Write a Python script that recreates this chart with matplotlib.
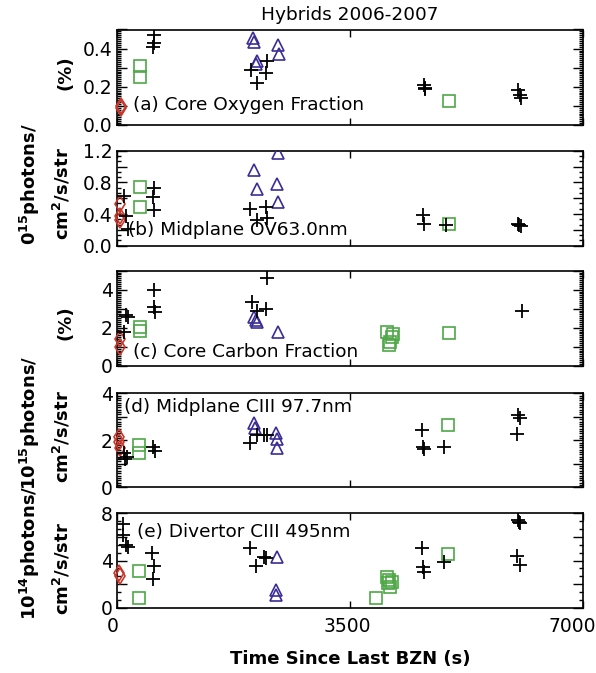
import matplotlib
matplotlib.use("Agg")
import matplotlib.pyplot as plt
import matplotlib.transforms as mtransforms
from matplotlib.ticker import MultipleLocator, FuncFormatter

plt.rcParams['font.family'] = ['DejaVu Sans']
plt.rcParams['mathtext.fontset'] = 'dejavusans'

# ---------------- data ----------------
# Panel (a) Core Oxygen Fraction (%)
plus_a_x = [545, 555, 560, 2008, 2098, 2234, 2248, 4610, 4620, 4630, 6028, 6053, 6064]
plus_a_y = [0.41, 0.43, 0.47, 0.29, 0.22, 0.27, 0.335, 0.21, 0.195, 0.19, 0.185, 0.157, 0.14]
sq_a_x = [350, 350, 4992]
sq_a_y = [0.31, 0.25, 0.127]
tri_a_x = [2047, 2058, 2088, 2098, 2413, 2438]
tri_a_y = [0.454, 0.436, 0.319, 0.335, 0.419, 0.37]
dia_a_x = [55, 55]
dia_a_y = [0.10, 0.09]

# Panel (b) Midplane OV 63.0nm
plus_b_x = [105, 135, 170, 545, 555, 560, 1998, 2098, 2234, 2248, 4601, 4616, 4942, 6028, 6045, 6064]
plus_b_y = [0.63, 0.375, 0.21, 0.61, 0.45, 0.725, 0.46, 0.325, 0.485, 0.346, 0.388, 0.274, 0.261, 0.274, 0.262, 0.249]
sq_b_x = [350, 350, 4992]
sq_b_y = [0.745, 0.493, 0.274]
tri_b_x = [2058, 2098, 2413, 2408, 2413]
tri_b_y = [0.956, 0.712, 1.167, 0.775, 0.556]
dia_b_x = [45, 45, 50]
dia_b_y = [0.527, 0.38, 0.32]

# Panel (c) Core Carbon Fraction (%)
plus_c_x = [110, 135, 160, 555, 560, 570, 2023, 2098, 2234, 2248, 6088]
plus_c_y = [1.79, 2.67, 2.58, 3.98, 3.07, 2.84, 3.37, 2.89, 2.97, 4.63, 2.88]
sq_c_x = [340, 340, 4060, 4150, 4100, 4090, 4126, 4992]
sq_c_y = [2.02, 1.83, 1.79, 1.67, 1.26, 1.09, 1.49, 1.70]
tri_c_x = [2063, 2088, 2098, 2413]
tri_c_y = [2.58, 2.41, 2.32, 1.79]
dia_c_x = [50, 50]
dia_c_y = [1.40, 1.0]

# Panel (d) Midplane CIII 97.7nm
plus_d_x = [110, 150, 120, 545, 570, 1998, 2098, 2213, 2248, 4586, 4601, 4611, 4912, 6004, 6028, 6053]
plus_d_y = [1.45, 1.30, 1.20, 1.73, 1.56, 1.87, 2.23, 2.23, 2.23, 2.44, 1.73, 1.62, 1.70, 2.27, 3.08, 2.96]
sq_d_x = [325, 325, 4977]
sq_d_y = [1.80, 1.45, 2.65]
tri_d_x = [2058, 2068, 2388, 2398, 2398]
tri_d_y = [2.72, 2.51, 2.30, 2.06, 1.66]
dia_d_x = [30, 30, 40]
dia_d_y = [2.15, 1.94, 1.66]

# Panel (e) Divertor CIII 495nm
plus_e_x = [95, 95, 135, 160, 530, 545, 555, 1998, 2088, 2208, 2234, 4586, 4601, 4616, 4912,
            6004, 6028, 6043, 6053, 6053]
plus_e_y = [7.07, 6.16, 5.31, 5.12, 4.66, 2.41, 3.53, 5.03, 3.53, 4.32, 4.19, 5.03, 3.42, 3.05, 3.85,
            4.38, 7.43, 7.29, 7.15, 3.62]
sq_e_x = [325, 325, 3886, 4060, 4075, 4090, 4100, 4126, 4977]
sq_e_y = [3.11, 0.80, 0.85, 2.63, 2.07, 2.35, 1.78, 2.20, 4.53]
tri_e_x = [2408, 2388, 2388]
tri_e_y = [4.32, 1.50, 1.08]
dia_e_x = [30, 40]
dia_e_y = [2.92, 2.69]

panel_labels = ["(a) Core Oxygen Fraction", "(b) Midplane OV63.0nm",
                "(c) Core Carbon Fraction", "(d) Midplane CIII 97.7nm",
                "(e) Divertor CIII 495nm"]
x_ticks = [0, 3500, 7000]
title = "Hybrids 2006-2007"
xlabel = "Time Since Last BZN (s)"

# ---------------- style ----------------
RED = '#c8382c'
GREEN = '#4ea845'
BLUE = '#3a2d96'

W, H = 596, 673
fig = plt.figure(figsize=(W / 100, H / 100), dpi=100)

def frac_y(px):
    return 1 - px / H

left = 117 / W
width = (583 - 117) / W
# (top px, bottom px) of each panel
panel_px = [(29.5, 125.0), (150.7, 245.7), (270.7, 365.7), (393.3, 487.3), (513.3, 607.7)]

ylims = [(0, 0.5), (0, 1.2), (0, 5), (0, 4), (0, 8)]
ymajor = [0.1, 0.2, 1.0, 1.0, 2.0]
ylabel_every = [0.2, 0.4, 2, 2, 4]
yminor = [0.01, 0.2 / 3, 0.1, 0.1, 2 / 3]
yfmt = ["%.1f", "%.1f", "%d", "%d", "%d"]
label_pos = [(0.034, 0.21), (0.024, 0.165), (0.034, 0.147), (0.015, 0.857), (0.043, 0.805)]

series = [
    (plus_a_x, plus_a_y, sq_a_x, sq_a_y, tri_a_x, tri_a_y, dia_a_x, dia_a_y),
    (plus_b_x, plus_b_y, sq_b_x, sq_b_y, tri_b_x, tri_b_y, dia_b_x, dia_b_y),
    (plus_c_x, plus_c_y, sq_c_x, sq_c_y, tri_c_x, tri_c_y, dia_c_x, dia_c_y),
    (plus_d_x, plus_d_y, sq_d_x, sq_d_y, tri_d_x, tri_d_y, dia_d_x, dia_d_y),
    (plus_e_x, plus_e_y, sq_e_x, sq_e_y, tri_e_x, tri_e_y, dia_e_x, dia_e_y),
]

axes = []
for i, (top, bot) in enumerate(panel_px):
    ax = fig.add_axes([left, frac_y(bot), width, (bot - top) / H])
    axes.append(ax)
    px, py, sx, sy, tx, ty, dx, dy = series[i]
    ax.plot(dx, dy, linestyle='none', marker='d', markersize=8.5, markerfacecolor='none',
            markeredgecolor=RED, markeredgewidth=1.2, clip_on=False, zorder=3)
    ax.plot(sx, sy, linestyle='none', marker='s', markersize=8, markerfacecolor='none',
            markeredgecolor=GREEN, markeredgewidth=1.2, zorder=3)
    ax.plot(tx, ty, linestyle='none', marker='^', markersize=8.5, markerfacecolor='none',
            markeredgecolor=BLUE, markeredgewidth=1.2, zorder=3)
    ax.plot(px, py, linestyle='none', marker='+', markersize=9.5, color='black',
            markeredgewidth=1.3, zorder=4)

    ax.set_xlim(0, 7000)
    ax.set_ylim(*ylims[i])
    ax.set_xticks(x_ticks)
    ax.yaxis.set_major_locator(MultipleLocator(ymajor[i]))
    ax.yaxis.set_minor_locator(MultipleLocator(yminor[i]))
    every = ylabel_every[i]
    fmt = yfmt[i]

    def _f(v, pos, every=every, fmt=fmt):
        r = v / every
        if abs(r - round(r)) < 1e-6:
            return fmt % v
        return ""
    ax.yaxis.set_major_formatter(FuncFormatter(_f))
    ax.tick_params(axis='both', which='both', direction='in', top=True, right=True,
                   labelsize=13.5, width=1.0)
    ax.tick_params(axis='y', which='major', length=7, pad=3)
    ax.tick_params(axis='y', which='minor', length=3)
    ax.tick_params(axis='x', which='major', length=5, pad=7)
    if i < 4:
        ax.tick_params(axis='x', labelbottom=False)
    for s in ax.spines.values():
        s.set_linewidth(1.2)
    ax.text(label_pos[i][0], label_pos[i][1], panel_labels[i], transform=ax.transAxes,
            fontsize=13.3, ha='left', va='center', zorder=5)

# shift bottom x tick labels slightly left, as in the reference
shifts_px = [-4, -3, -11]
for lab, dxp in zip(axes[-1].get_xticklabels(), shifts_px):
    lab.set_transform(lab.get_transform() +
                      mtransforms.ScaledTranslation(dxp / 100, 0, fig.dpi_scale_trans))

# title and x label
cx = (117 + 583) / 2 / W
fig.text(cx, frac_y(15), title, ha='center', va='center', fontsize=13.3)
fig.text(cx, frac_y(659), xlabel, ha='center', va='center', fontsize=13, fontweight='bold')

# y-axis labels
fig.text(66 / W, frac_y(73), "(%)", rotation=90, ha='center', va='center',
         fontsize=13, fontweight='bold')
fig.text(66 / W, frac_y(323), "(%)", rotation=90, ha='center', va='center',
         fontsize=13, fontweight='bold')

lab15 = "0$^{\\mathbf{15}}$photons/"
lab15d = "10$^{\\mathbf{15}}$photons/"
lab14 = "10$^{\\mathbf{14}}$photons/"
unit = "cm$^{\\mathbf{2}}$/s/str"
# (line text, x center px, bottom px)
ylines = [(lab15, 30, 245), (unit, 62, 240),
          (lab15d, 30, 490), (unit, 62, 483),
          (lab14, 30, 620), (unit, 62, 615)]
for txt, xp, bp in ylines:
    fig.text(xp / W, frac_y(bp), txt, rotation=90, ha='center', va='bottom',
             fontsize=13, fontweight='bold')

fig.savefig("out.png", dpi=100)
